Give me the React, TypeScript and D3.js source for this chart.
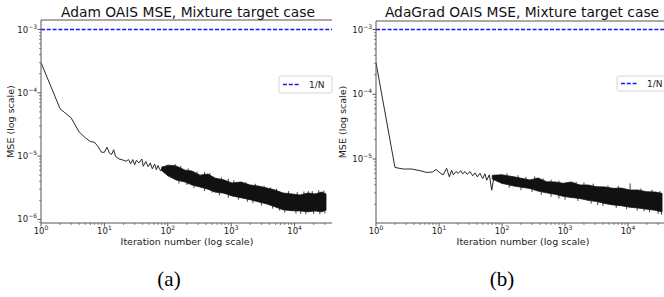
import { useEffect, useRef } from 'react'
import * as d3 from 'd3'

// Adam run, early iterations (readable part of the curve)
const adamIter = [1, 2, 3, 4, 5, 6, 7, 8, 9, 10, 11, 12, 13, 14, 15, 17, 20, 22, 24, 26, 28, 30, 32, 35, 39, 41, 45, 49, 53, 57, 62, 66, 70, 77, 84, 90, 98, 107]
const adamMse = [3.0e-4, 5.6e-5, 4.0e-5, 2.4e-5, 1.95e-5, 1.7e-5, 1.65e-5, 1.4e-5, 1.15e-5, 1.15e-5, 1.38e-5, 1.12e-5, 1.06e-5, 1.26e-5, 9.9e-6, 9.0e-6, 8.6e-6, 8.3e-6, 8.8e-6, 7.6e-6, 8.8e-6, 7.3e-6, 8.6e-6, 7.8e-6, 9.0e-6, 6.9e-6, 8.2e-6, 6.8e-6, 7.8e-6, 6.3e-6, 7.5e-6, 6.1e-6, 7.1e-6, 5.8e-6, 6.9e-6, 5.4e-6, 6.3e-6, 5.1e-6]
// Adam run, dense noisy part read as upper / lower envelope
const adamBandIter = [80, 100, 135, 187, 241, 322, 430, 555, 770, 1030, 1430, 1980, 2650, 3670, 4910, 6560, 9100, 12200, 16300, 21000, 27000, 31300]
const adamBandHi = [6.6e-6, 7.2e-6, 7.0e-6, 6.0e-6, 5.8e-6, 5.0e-6, 5.2e-6, 4.5e-6, 4.2e-6, 3.76e-6, 3.9e-6, 3.5e-6, 3.37e-6, 3.13e-6, 2.91e-6, 2.61e-6, 2.52e-6, 2.43e-6, 2.61e-6, 2.52e-6, 2.71e-6, 2.52e-6]
const adamBandLo = [5.9e-6, 4.9e-6, 4.2e-6, 3.9e-6, 3.5e-6, 3.25e-6, 3.0e-6, 2.7e-6, 2.6e-6, 2.35e-6, 2.2e-6, 2.05e-6, 1.9e-6, 1.75e-6, 1.58e-6, 1.42e-6, 1.37e-6, 1.36e-6, 1.32e-6, 1.36e-6, 1.32e-6, 1.4e-6]
// Adam run, spikes sticking out of the band
const adamSpikeIter = [130, 160, 210, 290, 380, 460, 700, 900, 1100, 1700, 2400, 3300, 4200, 5200, 8000, 11000, 14000, 16500, 19000, 24000, 29000,
  150, 200, 260, 380, 500, 650, 900, 1300, 1800, 2200, 3000, 4500, 5800, 7000, 10500, 12500, 15000, 20000, 25000, 30000]
const adamSpikeMse = [7.5e-6, 7.0e-6, 6.4e-6, 5.7e-6, 5.6e-6, 5.4e-6, 4.6e-6, 4.4e-6, 4.15e-6, 3.9e-6, 3.65e-6, 3.4e-6, 3.2e-6, 3.05e-6, 2.8e-6, 2.7e-6, 2.75e-6, 2.8e-6, 2.8e-6, 2.9e-6, 2.85e-6,
  3.7e-6, 3.5e-6, 3.15e-6, 2.8e-6, 2.65e-6, 2.4e-6, 2.2e-6, 2.05e-6, 1.9e-6, 1.8e-6, 1.65e-6, 1.48e-6, 1.38e-6, 1.28e-6, 1.24e-6, 1.22e-6, 1.2e-6, 1.22e-6, 1.2e-6, 1.24e-6]

// AdaGrad run
const adaIter = [1, 2, 2.7, 3.7, 5, 6.4, 7.9, 9, 10.4, 11.7, 13.2, 14.6, 15.9, 16.9, 18.6, 20.2, 22.1, 23.8, 25.9, 28.1, 31, 34.3, 37.3, 40.5, 44.7, 49.4, 53.7, 57.2, 62.9, 68.7, 74.6, 82.4, 90, 100]
const adaMse = [3.07e-4, 7.4e-6, 7.0e-6, 7.0e-6, 6.6e-6, 6.2e-6, 6.3e-6, 6.9e-6, 6.1e-6, 5.7e-6, 7.2e-6, 5.3e-6, 6.7e-6, 5.7e-6, 6.4e-6, 6.0e-6, 6.6e-6, 5.9e-6, 6.4e-6, 5.8e-6, 6.4e-6, 5.5e-6, 6.1e-6, 5.3e-6, 6.0e-6, 5.0e-6, 5.9e-6, 4.7e-6, 5.7e-6, 3.3e-6, 5.3e-6, 4.7e-6, 5.5e-6, 4.4e-6]
const adaBandIter = [70, 100, 161, 278, 373, 510, 694, 940, 1245, 1730, 2320, 3190, 4310, 5850, 7740, 10800, 14400, 19800, 26800, 34700]
const adaBandHi = [5.6e-6, 5.7e-6, 5.27e-6, 4.74e-6, 5.09e-6, 4.46e-6, 4.42e-6, 4.21e-6, 4.42e-6, 3.97e-6, 3.97e-6, 3.73e-6, 3.70e-6, 3.52e-6, 3.56e-6, 3.32e-6, 3.32e-6, 3.12e-6, 3.09e-6, 2.95e-6]
const adaBandLo = [4.9e-6, 4.2e-6, 3.8e-6, 3.5e-6, 3.2e-6, 3.0e-6, 2.85e-6, 2.65e-6, 2.55e-6, 2.45e-6, 2.3e-6, 2.2e-6, 2.05e-6, 1.95e-6, 1.9e-6, 1.8e-6, 1.75e-6, 1.68e-6, 1.62e-6, 1.52e-6]
const adaSpikeIter = [120, 180, 240, 330, 450, 600, 800, 1500, 2000, 2800, 4800, 7000, 10800, 16000, 24000, 32000,
  130, 200, 300, 420, 600, 800, 1000, 1600, 2600, 3300, 4000, 6500, 9500, 14000, 18000, 22000, 30000, 34000]
const adaSpikeMse = [6.0e-6, 5.6e-6, 5.3e-6, 5.4e-6, 5.0e-6, 4.8e-6, 4.65e-6, 4.45e-6, 4.35e-6, 4.15e-6, 3.9e-6, 3.85e-6, 4.2e-6, 3.5e-6, 3.35e-6, 3.2e-6,
  3.6e-6, 3.3e-6, 3.1e-6, 2.8e-6, 2.6e-6, 2.45e-6, 2.35e-6, 2.25e-6, 2.05e-6, 1.95e-6, 1.88e-6, 1.75e-6, 1.68e-6, 1.6e-6, 1.55e-6, 1.5e-6, 1.42e-6, 1.38e-6]

const oneOverN = 1e-3
const xTickVals = [1, 10, 100, 1000, 10000, 100000]
const yTickVals = [1e-3, 1e-4, 1e-5, 1e-6, 1e-7]
const titles = ['Adam OAIS MSE, Mixture target case', 'AdaGrad OAIS MSE, Mixture target case']
const captions = ['(a)', '(b)']
const legendLabel = '1/N'

const font = 'DejaVu Sans, sans-serif'
const blue = '#1515ff'

const panels = [
  {
    series: { iter: adamIter, mse: adamMse, bIter: adamBandIter, hi: adamBandHi, lo: adamBandLo, sIter: adamSpikeIter, sMse: adamSpikeMse },
    x0: 41, xDec: 63.4, y0: 29.5, yDec: 63.3, top: 20, bottom: 223, right: 332,
    titleX: 188, yLabelX: 11, xLabelX: 187, captionX: 169,
    legend: { x: 279, y: 76, w: 53, h: 17 }
  },
  {
    series: { iter: adaIter, mse: adaMse, bIter: adaBandIter, hi: adaBandHi, lo: adaBandLo, sIter: adaSpikeIter, sMse: adaSpikeMse },
    x0: 376, xDec: 63, y0: 29.5, yDec: 64.75, top: 21, bottom: 223, right: 664,
    titleX: 522, yLabelX: 343, xLabelX: 523, captionX: 502,
    legend: { x: 617, y: 76, w: 49, h: 15 }
  }
]

function App() {
  const ref = useRef<SVGSVGElement>(null)

  useEffect(() => {
    const svg = d3.select(ref.current)
    svg.selectAll('*').remove()
    const defs = svg.append('defs')

    panels.forEach((p, i) => {
      const s = p.series
      const x = d3.scaleLog().domain([1, 1e4]).range([p.x0, p.x0 + 4 * p.xDec])
      const y = d3.scaleLog().domain([1e-3, 1e-6]).range([p.y0, p.y0 + 3 * p.yDec])

      const clipId = `clip${i}`
      defs.append('clipPath').attr('id', clipId)
        .append('rect')
        .attr('x', p.x0).attr('y', p.top)
        .attr('width', p.right - p.x0).attr('height', p.bottom - p.top)

      const g = svg.append('g')
      const plot = g.append('g').attr('clip-path', `url(#${clipId})`)

      // 1/N reference line
      plot.append('line')
        .attr('x1', p.x0).attr('x2', p.right)
        .attr('y1', y(oneOverN)).attr('y2', y(oneOverN))
        .attr('stroke', blue).attr('stroke-width', 1.6)
        .attr('stroke-dasharray', '4,1.8')

      // dense noisy band
      const band = s.bIter.map((it, k) => ({ it, hi: s.hi[k], lo: s.lo[k] }))
      const area = d3.area<{ it: number, hi: number, lo: number }>()
        .x(d => x(d.it)).y0(d => y(d.lo)).y1(d => y(d.hi))
      plot.append('path').attr('d', area(band))
        .attr('fill', '#111').attr('stroke', '#111').attr('stroke-width', 0.8)

      // spikes leaving the band (drawn back to the band edge)
      const hiScale = d3.scaleLog().domain(s.bIter).range(s.hi)
      const loScale = d3.scaleLog().domain(s.bIter).range(s.lo)
      s.sIter.forEach((it, k) => {
        const v = s.sMse[k]
        const edge = v > hiScale(it) ? hiScale(it) : loScale(it)
        plot.append('line')
          .attr('x1', x(it)).attr('x2', x(it))
          .attr('y1', y(v)).attr('y2', y(edge))
          .attr('stroke', '#111').attr('stroke-width', 0.8)
      })

      // early curve
      const pts = s.iter.map((it, k) => [it, s.mse[k]] as [number, number])
      const line = d3.line<[number, number]>().x(d => x(d[0])).y(d => y(d[1]))
      plot.append('path').attr('d', line(pts))
        .attr('fill', 'none').attr('stroke', '#111').attr('stroke-width', 0.9)

      // spines
      const spine = '#555'
      g.append('line').attr('x1', p.x0).attr('x2', p.x0).attr('y1', p.top).attr('y2', p.bottom).attr('stroke', spine)
      g.append('line').attr('x1', p.x0).attr('x2', p.right).attr('y1', p.top).attr('y2', p.top).attr('stroke', spine)
      g.append('line').attr('x1', p.x0).attr('x2', p.right).attr('y1', p.bottom).attr('y2', p.bottom).attr('stroke', spine)

      // x ticks
      xTickVals.forEach(v => {
        const px = x(v)
        if (px > p.right) return
        g.append('line').attr('x1', px).attr('x2', px).attr('y1', p.bottom).attr('y2', p.bottom + 3.5).attr('stroke', spine)
        const t = g.append('text').attr('x', px).attr('y', p.bottom + 11)
          .attr('text-anchor', 'middle').attr('font-family', font).attr('font-size', 8.5).attr('fill', '#222')
        t.append('tspan').text('10')
        t.append('tspan').attr('dy', -4).attr('font-size', 6).text(String(Math.round(Math.log10(v))))
        for (let m = 2; m < 10; m++) {
          const mx = x(v * m)
          if (mx > p.right) break
          g.append('line').attr('x1', mx).attr('x2', mx).attr('y1', p.bottom).attr('y2', p.bottom + 2).attr('stroke', spine).attr('stroke-width', 0.7)
        }
      })

      // y ticks
      yTickVals.forEach(v => {
        const py = y(v)
        if (py >= p.top && py <= p.bottom) {
          g.append('line').attr('x1', p.x0 - 3.5).attr('x2', p.x0).attr('y1', py).attr('y2', py).attr('stroke', spine)
          const t = g.append('text').attr('x', p.x0 - 4).attr('y', py + 3)
            .attr('text-anchor', 'end').attr('font-family', font).attr('font-size', 8.5).attr('fill', '#222')
          t.append('tspan').text('10')
          t.append('tspan').attr('dy', -4).attr('font-size', 6).text('\u2212' + Math.round(-Math.log10(v)))
        }
        for (let m = 2; m < 10; m++) {
          const my = y(v * m)
          if (my < p.top || my > p.bottom) continue
          g.append('line').attr('x1', p.x0 - 2).attr('x2', p.x0).attr('y1', my).attr('y2', my).attr('stroke', spine).attr('stroke-width', 0.7)
        }
      })

      // title and axis labels
      g.append('text').attr('x', p.titleX).attr('y', 17).attr('text-anchor', 'middle')
        .attr('font-family', font).attr('font-size', 13.8).attr('fill', '#111').text(titles[i])
      g.append('text').attr('x', p.xLabelX).attr('y', 245).attr('text-anchor', 'middle')
        .attr('font-family', font).attr('font-size', 9.5).attr('fill', '#222').text('Iteration number (log scale)')
      g.append('text')
        .attr('transform', `translate(${p.yLabelX + 3},${(p.top + p.bottom) / 2}) rotate(-90)`)
        .attr('text-anchor', 'middle').attr('font-family', font).attr('font-size', 9.5).attr('fill', '#222')
        .text('MSE (log scale)')

      // legend
      const lg = p.legend
      g.append('rect').attr('x', lg.x).attr('y', lg.y).attr('width', lg.w).attr('height', lg.h)
        .attr('rx', 2).attr('fill', '#fff').attr('stroke', '#ccc').attr('stroke-width', 0.8)
      g.append('line').attr('x1', lg.x + 4).attr('x2', lg.x + 21).attr('y1', lg.y + lg.h / 2).attr('y2', lg.y + lg.h / 2)
        .attr('stroke', blue).attr('stroke-width', 1.6).attr('stroke-dasharray', '4,1.8')
      g.append('text').attr('x', lg.x + 30).attr('y', lg.y + lg.h / 2 + 3)
        .attr('font-family', font).attr('font-size', 9).attr('fill', '#222').text(legendLabel)

      // caption
      g.append('text').attr('x', p.captionX).attr('y', 286).attr('text-anchor', 'middle')
        .attr('font-family', 'Liberation Serif, Times New Roman, serif').attr('font-size', 21).attr('fill', '#000')
        .text(captions[i])
    })
  }, [])

  return (
    <svg ref={ref} width={664} height={297} style={{ position: 'absolute', left: 0, top: 0, background: '#fff' }} />
  )
}

export default App
